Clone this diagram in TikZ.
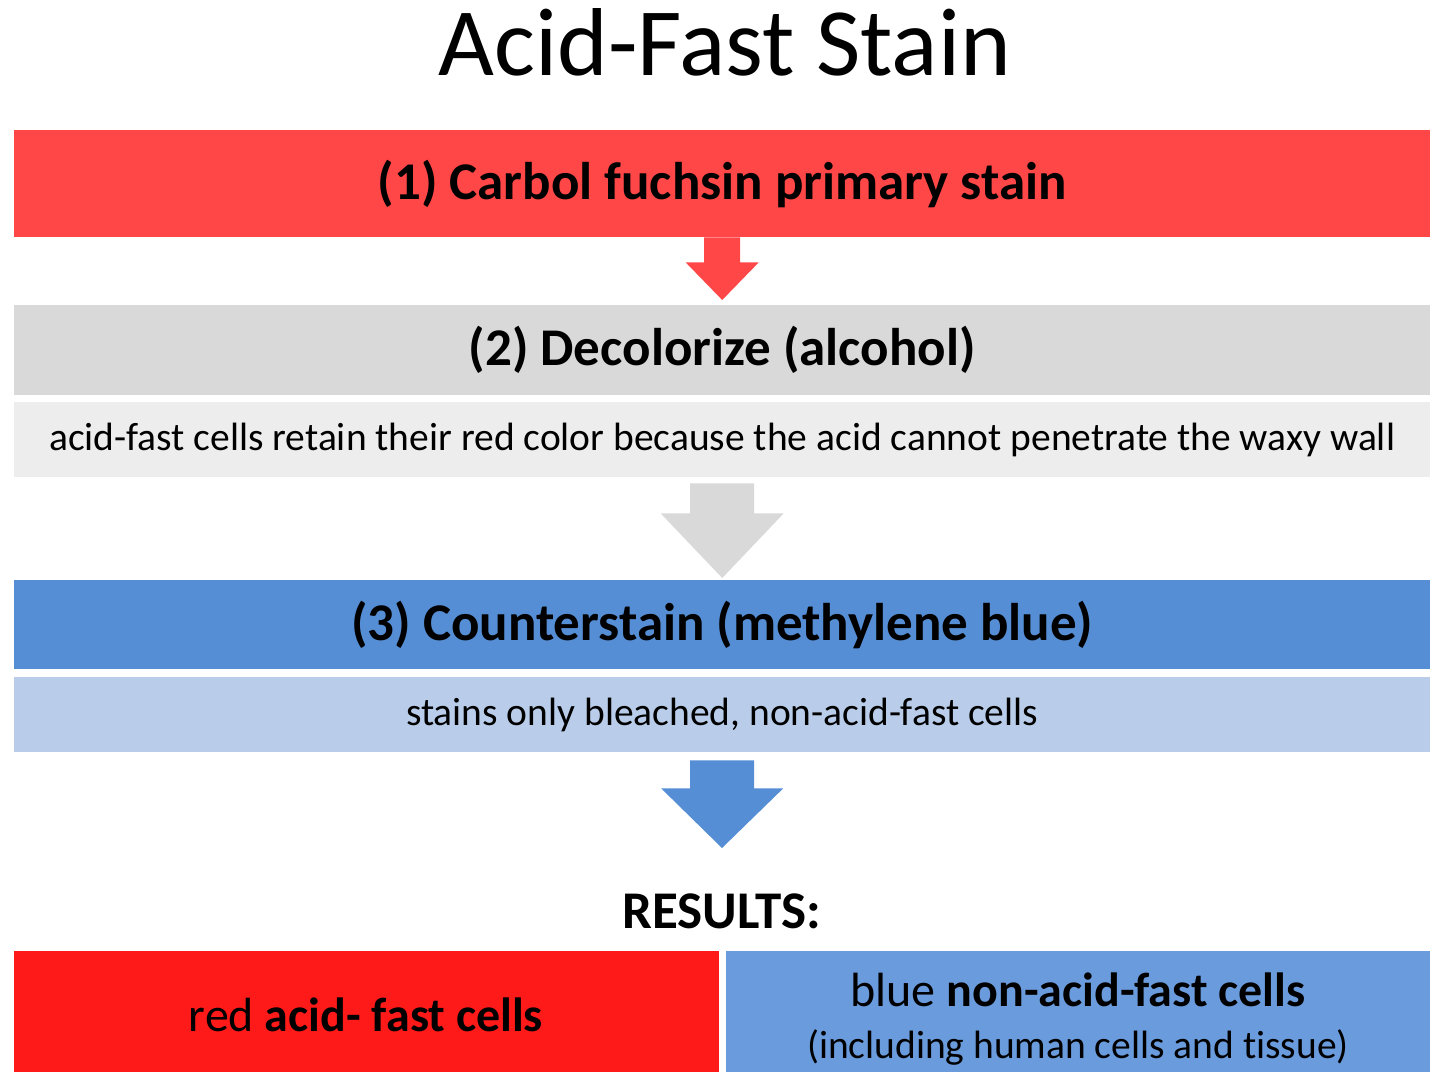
\documentclass[tikz,border=0pt]{standalone}
\usepackage{fontspec}
\setmainfont{Carlito}[Ligatures=NoCommon]
\usetikzlibrary{positioning,calc}

\definecolor{stainred}{HTML}{FF4747}
\definecolor{decolgray}{HTML}{D9D9D9}
\definecolor{notegray}{HTML}{EDEDED}
\definecolor{counterblue}{HTML}{558ED5}
\definecolor{noteblue}{HTML}{B9CDEA}
\definecolor{resred}{HTML}{FF1A1A}
\definecolor{resblue}{HTML}{6A9BDC}

\tikzset{
    stepbox/.style={rectangle, anchor=north west, inner sep=0pt, minimum width=1416pt, align=center},
    headtext/.style={font=\fontsize{53}{60}\selectfont\bfseries},
    notetext/.style={font=\fontsize{39.5}{46}\selectfont},
    resbox/.style={rectangle, anchor=north west, inner sep=0pt, minimum width=705pt, minimum height=121pt, align=center}
}

% block arrow: colour, from node, to node, shaft half, head half, top gap, shaft length, tip gap
\newcommand{\flowarrow}[8]{
    \fill[#1] ($(#2.south)+(-#4,#6)$) -- ($(#2.south)+(-#4,#6+#7)$) -- ($(#2.south)+(-#5,#6+#7)$)
        -- ($(#3.north)+(0,-#8)$)
        -- ($(#2.south)+(#5,#6+#7)$) -- ($(#2.south)+(#4,#6+#7)$) -- ($(#2.south)+(#4,#6)$) -- cycle;
}

\begin{document}
\begin{tikzpicture}[x=1pt, y=-1pt]
    \useasboundingbox (0,0) rectangle (1440,1085);

    \node [anchor=base, font=\fontsize{96.5}{100}\selectfont] (title) at (725,75) {Acid-Fast Stain};

    % the three steps
    \node [stepbox, headtext, fill=stainred, minimum height=107pt] (carbol) at (14,130) {(1) Carbol fuchsin primary stain};
    \node [stepbox, headtext, fill=decolgray, minimum height=90pt] (decolor) at (14,305) {(2) Decolorize (alcohol)};
    \node [stepbox, notetext, fill=notegray, minimum height=75pt] (retain) at (14,402) {acid-fast cells retain their red color because the acid cannot penetrate the waxy wall};
    \node [stepbox, headtext, fill=counterblue, minimum height=89pt] (counter) at (14,580) {(3) Counterstain (methylene blue)};
    \node [stepbox, notetext, fill=noteblue, minimum height=75pt] (bleached) at (14,677) {stains only bleached, non-acid-fast cells};

    \coordinate (resultstop) at (722,848);
    \node [headtext, anchor=base] (results) at (722,928) {RESULTS:};

    % results
    \node [resbox, fill=resred] (redcells) at (14,951) {};
    \node [anchor=base, font=\fontsize{48}{56}\selectfont] (redtext) at (366,1031) {red \textbf{acid- fast cells}};
    \node [resbox, fill=resblue, minimum width=704pt] (bluecells) at (726,951) {};
    \node [anchor=base, font=\fontsize{48}{56}\selectfont] (bluetop) at (1078,1006) {blue \textbf{non-acid-fast cells}};
    \node [anchor=base, font=\fontsize{39.5}{46}\selectfont] (bluebottom) at (1078,1058) {(including human cells and tissue)};

    % arrows between the steps
    \flowarrow{stainred}{carbol}{decolor}{18}{36.5}{0}{25}{5}
    \flowarrow{decolgray}{retain}{counter}{32}{61.5}{6}{30}{2}
    \flowarrow{counterblue}{bleached}{resultstop}{32}{61}{8}{28}{0}
\end{tikzpicture}
\end{document}
